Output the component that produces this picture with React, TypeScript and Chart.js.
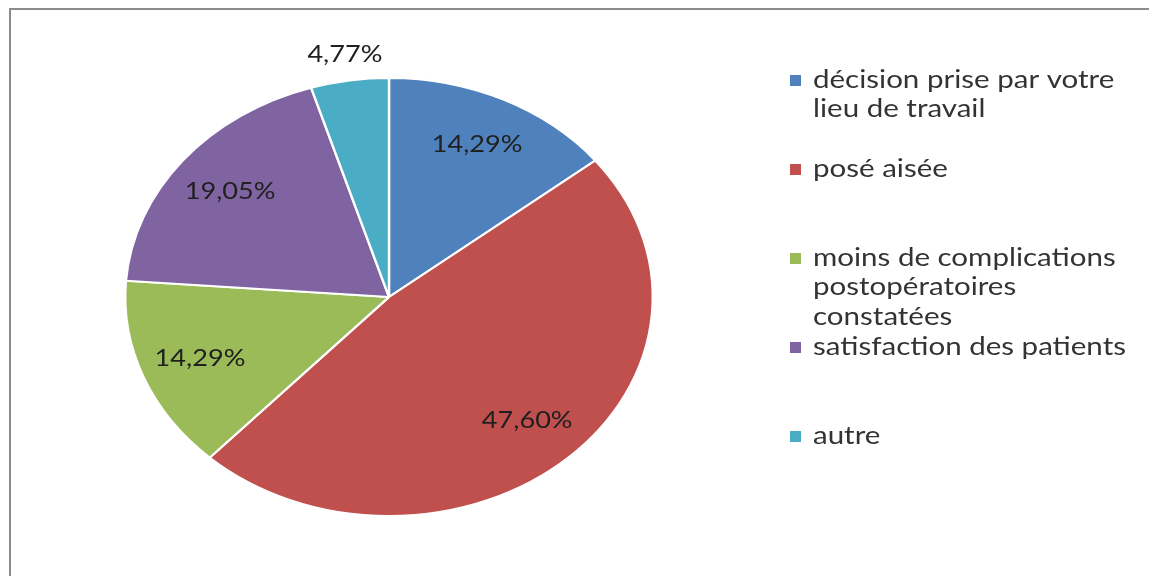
import React, { useEffect, useRef } from "react";
import { Chart, registerables } from "chart.js";

Chart.register(...registerables);

const categories = [
  "décision prise par votre lieu de travail",
  "posé aisée",
  "moins de complications postopératoires constatées",
  "satisfaction des patients",
  "autre",
];
const legendLines = [
  ["décision prise par votre", "lieu de travail"],
  ["posé aisée"],
  ["moins de complications", "postopératoires", "constatées"],
  ["satisfaction des patients"],
  ["autre"],
];
const values = [14.29, 47.6, 14.29, 19.05, 4.77];
const colors = ["#4F81BD", "#C0504D", "#9BBB59", "#8064A2", "#4BACC6"];

const FONT = "Lato, 'Open Sans', sans-serif";
const SX = 1.2045;

const fmt = (v: number) => v.toFixed(2).replace(".", ",") + "%";

function stretchedText(ctx: any, text: string, x: number, y: number) {
  ctx.save();
  ctx.translate(x, y);
  ctx.scale(SX, 1);
  ctx.fillText(text, 0, 0);
  ctx.restore();
}

const framePlugin = {
  id: "frame",
  beforeDraw(chart: any) {
    const ctx = chart.ctx;
    ctx.save();
    ctx.fillStyle = "#ffffff";
    ctx.fillRect(0, 0, chart.width, chart.height);
    ctx.strokeStyle = "#8c8c8c";
    ctx.lineWidth = 2;
    ctx.beginPath();
    ctx.moveTo(10, chart.height);
    ctx.lineTo(10, 9);
    ctx.lineTo(chart.width, 9);
    ctx.stroke();
    ctx.restore();
  },
};

const ellipsePlugin = {
  id: "ellipse",
  beforeDatasetsDraw(chart: any) {
    const a = chart.getDatasetMeta(0).data[0];
    const ctx = chart.ctx;
    ctx.save();
    ctx.translate(a.x, a.y);
    ctx.scale(SX, 1);
    ctx.translate(-a.x, -a.y);
  },
  afterDatasetsDraw(chart: any) {
    const ctx = chart.ctx;
    ctx.restore();
    const meta = chart.getDatasetMeta(0);
    const total = values.reduce((s, v) => s + v, 0);
    ctx.save();
    ctx.font = `22.5px ${FONT}`;
    ctx.fillStyle = "#1f1f1f";
    ctx.textAlign = "center";
    ctx.textBaseline = "middle";
    meta.data.forEach((arc: any, i: number) => {
      const p = arc.getProps(["x", "y", "startAngle", "endAngle", "outerRadius"], true);
      const mid = (p.startAngle + p.endAngle) / 2;
      const k = values[i] / total < 0.1 ? 1.12 : 0.77;
      const px = p.x + Math.cos(mid) * p.outerRadius * k * SX;
      const py = p.y + Math.sin(mid) * p.outerRadius * k;
      stretchedText(ctx, fmt(values[i]), px, py);
    });
    ctx.restore();
  },
};

const legendPlugin = {
  id: "customLegend",
  afterDraw(chart: any) {
    const ctx = chart.ctx;
    ctx.save();
    ctx.font = `24.5px ${FONT}`;
    ctx.textBaseline = "middle";
    ctx.textAlign = "left";
    const top = 80;
    const pitch = 89;
    const lh = 29.5;
    legendLines.forEach((lines, i) => {
      const y0 = top + i * pitch;
      ctx.fillStyle = colors[i];
      ctx.fillRect(790, y0 - 5, 11, 11);
      ctx.fillStyle = "#333333";
      lines.forEach((ln, j) => stretchedText(ctx, ln, 813, y0 + j * lh));
    });
    ctx.restore();
  },
};

export default function App() {
  const ref = useRef<HTMLCanvasElement | null>(null);
  useEffect(() => {
    if (!ref.current) return;
    const chart = new Chart(ref.current, {
      type: "pie",
      data: {
        labels: categories,
        datasets: [
          {
            data: values,
            backgroundColor: colors,
            borderColor: "#ffffff",
            borderWidth: 2,
          },
        ],
      },
      options: {
        animation: false,
        responsive: false,
        maintainAspectRatio: false,
        layout: { padding: { left: 124, right: 495, top: 77, bottom: 59 } },
        plugins: {
          legend: { display: false },
          tooltip: { enabled: false },
          title: { display: false },
        },
      },
      plugins: [framePlugin, ellipsePlugin, legendPlugin],
    });
    return () => chart.destroy();
  }, []);
  return (
    <div style={{ position: "absolute", left: 0, top: 0, width: 1149, height: 576 }}>
      <canvas ref={ref} width={1149} height={576} style={{ display: "block" }} />
    </div>
  );
}
